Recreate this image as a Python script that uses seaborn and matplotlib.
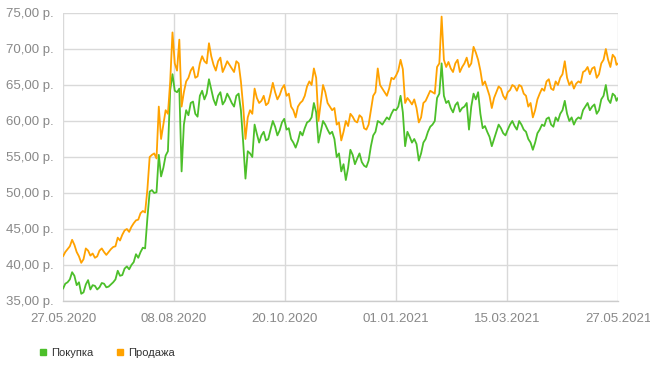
import numpy as np
import pandas as pd
import matplotlib
matplotlib.use("Agg")
import matplotlib.pyplot as plt
from matplotlib.lines import Line2D
import seaborn as sns

# ---- data: readings every 3 days from 27.05.2020 (plus final day 27.05.2021) ----
base_dates = list(pd.date_range("2020-05-27", periods=122, freq="3D")) + [pd.Timestamp("2021-05-27")]

buy = [36.7, 37.6, 39.0, 37.2, 36.0, 37.3, 36.6, 37.1, 36.9, 37.4,
       37.0, 37.6, 39.2, 38.6, 39.8, 40.0, 41.5, 41.8, 42.3, 50.2,
       50.0, 55.3, 53.5, 55.8, 66.5, 64.0, 53.0, 61.5, 62.5, 61.0,
       63.5, 63.0, 65.8, 63.0, 63.5, 62.3, 63.8, 62.5, 63.5, 61.5,
       52.0, 55.5, 59.5, 57.0, 58.5, 57.5, 60.0, 58.0, 59.8, 58.8,
       57.5, 56.3, 58.5, 59.0, 60.0, 62.5, 57.0, 60.0, 58.8, 58.5,
       55.0, 53.0, 51.8, 56.0, 54.0, 55.5, 53.8, 54.5, 58.0, 60.0,
       59.5, 60.5, 61.0, 61.5, 63.5, 56.5, 57.8, 57.5, 54.5, 57.0,
       58.5, 59.5, 63.2, 68.0, 62.5, 61.8, 62.2, 61.3, 62.0, 58.8,
       63.8, 64.0, 59.0, 58.5, 56.5, 58.5, 59.0, 58.0, 59.5, 59.3,
       60.0, 58.8, 57.5, 56.0, 58.3, 59.5, 60.3, 59.5, 60.5, 61.0,
       62.8, 60.0, 59.5, 60.5, 61.5, 62.5, 62.0, 61.0, 63.0, 65.0,
       62.5, 63.5, 63.2]

# readings between the 3-day points above
buy_mid = [37.4, 38.0, 38.5, 37.6, 36.2, 37.9, 37.2, 36.6, 37.5, 36.9,
           37.3, 38.0, 38.5, 39.5, 39.4, 40.4, 41.0, 42.4, 46.5, 50.4,
           50.1, 52.3, 55.2, 64.3, 64.2, 64.5, 59.5, 60.8, 62.7, 60.6,
           64.2, 63.8, 64.4, 62.2, 64.0, 62.8, 63.2, 62.0, 63.8, 57.0,
           55.8, 55.0, 58.2, 58.0, 57.3, 58.8, 59.2, 58.7, 60.3, 59.0,
           57.0, 57.2, 58.0, 59.8, 60.5, 61.2, 58.5, 59.5, 58.2, 57.5,
           55.5, 54.0, 53.5, 55.3, 54.8, 54.3, 53.6, 56.5, 58.5, 59.8,
           60.0, 60.2, 61.6, 62.0, 61.2, 58.5, 57.0, 56.8, 55.5, 57.5,
           59.2, 60.0, 63.8, 63.5, 62.8, 61.2, 62.6, 61.8, 62.5, 62.0,
           63.0, 61.0, 59.3, 57.8, 57.5, 59.5, 58.3, 58.8, 60.0, 58.8,
           59.5, 58.5, 57.0, 57.0, 58.8, 59.3, 60.5, 59.2, 60.0, 61.5,
           61.0, 60.5, 60.2, 60.3, 62.0, 61.5, 62.3, 61.5, 63.5, 63.0,
           63.8, 62.8]

sell = [41.2, 42.2, 43.5, 41.8, 40.3, 42.3, 41.3, 41.0, 42.0, 41.8,
        41.8, 42.5, 43.8, 44.2, 45.0, 45.3, 46.2, 47.2, 47.3, 55.0,
        55.5, 62.0, 59.5, 61.0, 72.3, 67.0, 62.0, 65.5, 67.0, 66.0,
        68.0, 68.3, 70.8, 67.8, 68.3, 66.8, 68.3, 67.3, 68.3, 65.5,
        57.5, 61.5, 64.5, 62.5, 63.5, 62.5, 65.3, 63.0, 64.5, 63.5,
        62.0, 60.5, 62.5, 63.5, 65.5, 67.3, 60.0, 65.0, 62.5, 61.5,
        59.5, 57.3, 60.0, 61.0, 60.0, 60.8, 59.0, 59.5, 63.5, 67.3,
        64.5, 63.5, 66.0, 66.3, 68.5, 62.5, 62.8, 63.0, 59.8, 62.5,
        63.5, 64.0, 67.5, 74.5, 67.5, 67.3, 68.0, 66.8, 68.0, 67.5,
        70.3, 68.5, 65.0, 64.5, 61.8, 64.0, 64.5, 63.0, 64.3, 64.8,
        65.0, 63.8, 62.0, 60.5, 63.0, 64.5, 65.5, 64.5, 65.5, 66.0,
        68.3, 65.0, 64.5, 65.5, 66.8, 67.5, 67.3, 66.0, 68.0, 70.0,
        67.5, 68.8, 68.0]

sell_mid = [41.8, 42.6, 42.8, 41.2, 40.8, 42.0, 41.6, 41.2, 42.3, 41.4,
            42.2, 42.6, 43.4, 44.8, 44.6, 45.8, 46.3, 47.5, 50.5, 55.3,
            54.8, 57.5, 61.5, 65.5, 68.0, 71.3, 64.0, 66.0, 67.5, 66.2,
            69.0, 68.0, 69.0, 67.0, 68.8, 67.5, 67.8, 66.8, 68.0, 62.0,
            60.5, 61.0, 63.2, 62.8, 62.2, 63.8, 64.0, 63.6, 65.0, 63.8,
            61.5, 62.0, 62.8, 64.8, 65.0, 66.0, 62.5, 64.0, 62.0, 61.8,
            59.8, 58.5, 59.3, 60.6, 59.8, 60.5, 58.8, 61.5, 64.0, 65.0,
            64.0, 64.5, 65.8, 67.0, 67.2, 63.2, 62.3, 61.8, 60.5, 62.8,
            64.2, 63.8, 68.0, 68.5, 68.2, 66.8, 68.5, 67.5, 68.8, 68.0,
            69.5, 67.0, 65.5, 63.5, 63.2, 64.8, 63.5, 64.0, 65.0, 64.2,
            64.8, 63.5, 62.5, 61.5, 63.8, 64.2, 65.8, 64.3, 65.0, 66.5,
            66.0, 65.5, 65.2, 65.3, 67.0, 66.5, 67.5, 66.5, 68.5, 68.5,
            69.2, 67.8]

series_names = ["Покупка", "Продажа"]
colors = ["#4cbf2a", "#ffa200"]
tick_dates = ["2020-05-27", "2020-08-08", "2020-10-20", "2021-01-01", "2021-03-15", "2021-05-27"]
y_ticks = [35, 40, 45, 50, 55, 60, 65, 70, 75]


def interleave(main, mid):
    out = []
    for k in range(len(mid)):
        out += [main[k], mid[k]]
    out.append(main[-1])
    return out


mid_dates = [base_dates[k] + (base_dates[k + 1] - base_dates[k]) / 2 for k in range(len(base_dates) - 1)]
dates = interleave(base_dates, mid_dates)
buy_all = interleave(buy, buy_mid)
sell_all = interleave(sell, sell_mid)

df = pd.DataFrame({
    "date": dates * 2,
    "value": buy_all + sell_all,
    "series": [series_names[0]] * len(buy_all) + [series_names[1]] * len(sell_all),
})

sns.set_theme(style="white")
plt.rcParams["font.family"] = ["Liberation Sans", "DejaVu Sans"]

fig = plt.figure(figsize=(6.5, 3.68), dpi=100)
ax = fig.add_axes([63 / 650, 1 - 301 / 368, (618 - 63) / 650, (301 - 13) / 368])

sns.lineplot(data=df, x="date", y="value", hue="series", hue_order=series_names,
             palette=colors, linewidth=1.3, ax=ax, legend=False)

ax.set_xlim(pd.Timestamp("2020-05-27"), pd.Timestamp("2021-05-27"))
ax.set_ylim(35, 75)
ax.set_xticks([pd.Timestamp(d) for d in tick_dates])
ax.set_xticklabels([pd.Timestamp(d).strftime("%d.%m.%Y") for d in tick_dates])
ax.set_yticks(y_ticks)
ax.set_yticklabels([f"{v:.2f}".replace(".", ",") + " р." for v in y_ticks])
ax.set_xlabel("")
ax.set_ylabel("")

grid_c = "#d9d9d9"
ax.grid(True, color=grid_c, linewidth=1.0)
ax.set_axisbelow(True)
for s in ["top", "right", "left"]:
    ax.spines[s].set_visible(False)
ax.spines["bottom"].set_color("#cccccc")
ax.spines["bottom"].set_linewidth(1.0)
ax.tick_params(axis="both", colors="#cccccc", labelcolor="#888888", labelsize=9.5,
               length=5, width=1.0, direction="out")
ax.tick_params(axis="x", pad=4)
ax.tick_params(axis="y", pad=2)

handles = [Line2D([0], [0], marker="s", linestyle="none", markersize=4.5,
                  markerfacecolor=c, markeredgecolor=c) for c in colors]
fig.legend(handles, series_names, loc="lower left", bbox_to_anchor=(0.045, 0.0),
           ncol=2, frameon=False, fontsize=8, handlelength=0.7, handletextpad=0.4,
           columnspacing=2.0, labelcolor="#333333")

fig.savefig("out.png", dpi=100)
